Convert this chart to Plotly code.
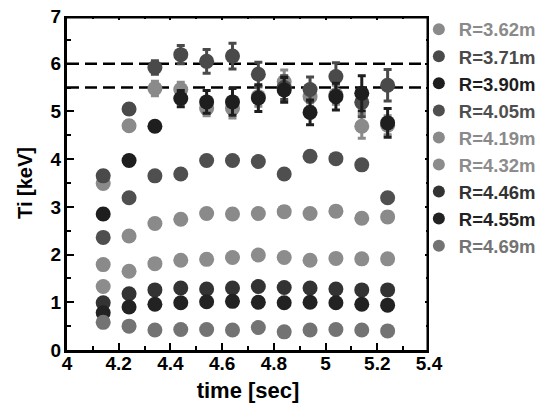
import plotly.graph_objects as go

time_s = [4.14, 4.24, 4.34, 4.44, 4.54, 4.64, 4.74, 4.84, 4.94, 5.04, 5.14, 5.24]

labels = ["R=3.62m", "R=3.71m", "R=3.90m", "R=4.05m", "R=4.19m",
          "R=4.32m", "R=4.46m", "R=4.55m", "R=4.69m"]

ti_362 = [3.49, 4.70, 5.48, 5.46, 5.06, 5.06, 5.31, 5.62, 5.31, 5.35, 4.69, 4.71]
ti_371 = [3.65, 5.05, 5.92, 6.19, 6.05, 6.16, 5.78, 5.50, 5.46, 5.73, 5.19, 5.55]
ti_390 = [2.85, 3.97, 4.69, 5.27, 5.20, 5.20, 5.28, 5.45, 4.98, 5.31, 5.38, 4.76]
ti_405 = [2.36, 3.19, 3.65, 3.69, 3.97, 3.97, 3.95, 3.69, 4.06, 4.01, 3.88, 3.19]
ti_419 = [1.79, 2.39, 2.65, 2.74, 2.86, 2.85, 2.86, 2.90, 2.86, 2.91, 2.76, 2.79]
ti_432 = [1.33, 1.65, 1.81, 1.88, 1.90, 1.94, 1.99, 1.94, 1.88, 1.92, 1.91, 1.91]
ti_446 = [0.99, 1.18, 1.26, 1.30, 1.28, 1.30, 1.33, 1.31, 1.30, 1.28, 1.26, 1.26]
ti_455 = [0.78, 0.90, 0.96, 0.99, 1.01, 1.02, 1.00, 0.99, 1.00, 0.99, 0.96, 0.94]
ti_469 = [0.58, 0.50, 0.42, 0.43, 0.43, 0.42, 0.47, 0.38, 0.42, 0.43, 0.42, 0.40]

err_362 = [0.10, 0.10, 0.15, 0.15, 0.15, 0.20, 0.20, 0.25, 0.20, 0.20, 0.25, 0.20]
err_371 = [0.10, 0.10, 0.14, 0.19, 0.25, 0.27, 0.25, 0.25, 0.26, 0.29, 0.30, 0.33]
err_390 = [0.10, 0.10, 0.10, 0.17, 0.24, 0.28, 0.28, 0.26, 0.26, 0.28, 0.37, 0.30]
err_405 = [0.06, 0.06, 0.06, 0.06, 0.08, 0.08, 0.08, 0.08, 0.10, 0.08, 0.08, 0.08]
err_419 = [0.06, 0.06, 0.08, 0.08, 0.10, 0.10, 0.10, 0.10, 0.10, 0.10, 0.10, 0.10]
err_432 = [0.05] * 12
err_446 = [0.04] * 12
err_455 = [0.04] * 12
err_469 = [0.04] * 12

ref_lines = [6.0, 5.5]

x_range = [4, 5.4]
y_range = [0, 7]

colors = ["#8a8a8a", "#4a4a4a", "#1e1e1e", "#4f4f4f", "#8a8a8a",
          "#8c8c8c", "#333333", "#222222", "#737373"]

series = [ti_362, ti_371, ti_390, ti_405, ti_419, ti_432, ti_446, ti_455, ti_469]
errors = [err_362, err_371, err_390, err_405, err_419, err_432, err_446, err_455, err_469]

FONT = "Liberation Sans, Arial, Helvetica, sans-serif"

fig = go.Figure()
for name, vals, errs, col in zip(labels, series, errors, colors):
    fig.add_trace(go.Scatter(
        x=time_s, y=vals, mode="markers",
        name=f'<span style="color:{col}">{name}</span>',
        marker=dict(size=15, color=col, line=dict(width=0)),
        error_y=dict(type="data", array=errs, visible=True,
                     color=col, thickness=3, width=4),
        cliponaxis=False,
    ))

# empty helper trace so the mirrored top/right axes (ticks only) get drawn
fig.add_trace(go.Scatter(x=[], y=[], xaxis="x2", yaxis="y2", showlegend=False,
                         hoverinfo="skip"))

for yv in ref_lines:
    fig.add_shape(type="line", xref="x", x0=x_range[0], x1=x_range[1], yref="y", y0=yv, y1=yv,
                  line=dict(color="black", width=2.5, dash="12px,6px"), layer="below")

# frame: top and right borders
fig.add_shape(type="line", xref="x", yref="y", x0=x_range[0], x1=x_range[1],
              y0=y_range[1], y1=y_range[1], line=dict(color="black", width=5), layer="above")
fig.add_shape(type="line", xref="x", yref="y", x0=x_range[1], x1=x_range[1],
              y0=y_range[0], y1=y_range[1], line=dict(color="black", width=5), layer="above")

axis_common = dict(
    showline=True, linecolor="black", linewidth=3,
    ticks="inside", ticklen=7, tickwidth=2, tickcolor="black",
    showgrid=False, zeroline=False, automargin=False,
    ticklabeloverflow="allow",
    tickfont=dict(family=FONT, size=19, color="black", weight="bold"),
)

fig.update_layout(
    xaxis=dict(range=x_range, dtick=0.2, tick0=4,
               minor=dict(dtick=0.1, ticks="inside", ticklen=4, tickwidth=2, tickcolor="black"),
               title=dict(text="time [sec]", font=dict(family=FONT, size=22, color="black", weight="bold"), standoff=10),
               ticklabelstandoff=-6,
               **axis_common),
    yaxis=dict(range=y_range, dtick=1, tick0=0,
               minor=dict(dtick=0.5, ticks="inside", ticklen=4, tickwidth=2, tickcolor="black"),
               title=dict(text="Ti [keV]", font=dict(family=FONT, size=20, color="black", weight="bold"), standoff=13),
               ticklabelstandoff=-1,
               **axis_common),
    xaxis2=dict(range=x_range, dtick=0.2, tick0=4, overlaying="x", side="top", anchor="y2",
                showticklabels=False, showline=False, showgrid=False, zeroline=False,
                ticks="inside", ticklen=4, tickwidth=2, tickcolor="black",
                minor=dict(dtick=0.1, ticks="inside", ticklen=3, tickwidth=2, tickcolor="black"),
                automargin=False),
    yaxis2=dict(range=y_range, dtick=1, tick0=0, overlaying="y", side="right", anchor="x2",
                showticklabels=False, showline=False, showgrid=False, zeroline=False,
                ticks="inside", ticklen=4, tickwidth=2, tickcolor="black",
                minor=dict(dtick=0.5, ticks="inside", ticklen=3, tickwidth=2, tickcolor="black"),
                automargin=False),
    width=552, height=406,
    margin=dict(l=59, r=131, t=8, b=64, autoexpand=False),
    paper_bgcolor="white", plot_bgcolor="white",
    font=dict(family=FONT, size=18, color="black", weight="bold"),
    showlegend=True,
    legend=dict(x=0.972, xanchor="left", yref="container", y=0.9933, yanchor="top",
                bgcolor="rgba(0,0,0,0)", borderwidth=0, maxheight=400,
                font=dict(family=FONT, size=18.5, weight="bold"),
                itemsizing="constant", tracegroupgap=0),
)

fig.write_html("out.html")
